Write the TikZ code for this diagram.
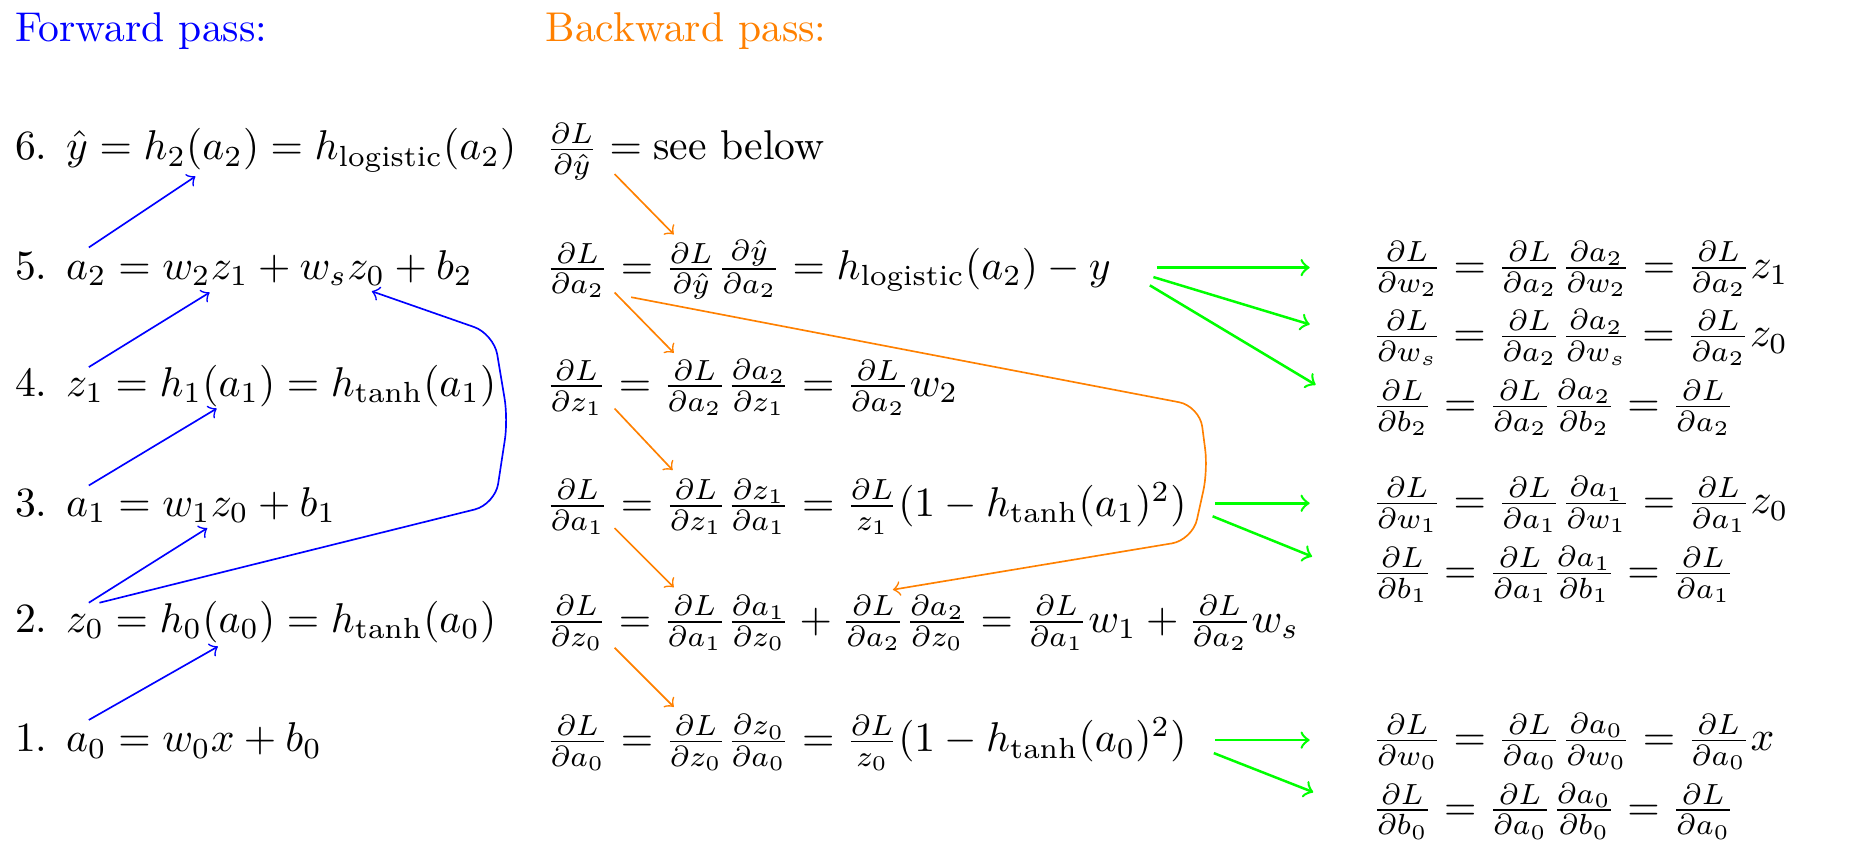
\documentclass[tikz,border=0pt]{standalone}
\usepackage{amsmath}
\usetikzlibrary{arrows,calc}

\begin{document}
\begin{tikzpicture}[
  txt/.style={anchor=base west,inner sep=0pt},
  fwd/.style={->,color=blue},
  bwd/.style={->,color=orange},
  grad/.style={->,color=green,semithick}]
\useasboundingbox (0,0) rectangle (15.69,7.20);

% Titles.
\node[txt,text=blue] (ftitle) at (0.12,6.85) {Forward pass:};
\node[txt,text=orange] (btitle) at (4.60,6.85) {Backward pass:};

% Forward pass.
\node[txt] (f6) at (0.12,5.85) {6.\hspace{4.5pt}$\hat{y} = h_2(a_2) = h_{\text{logistic}}(a_2)$};
\node[txt] (f5) at (0.12,4.84) {5.\hspace{4.5pt}$a_2 = w_2 z_1 + w_s z_0 + b_2$};
\node[txt] (f4) at (0.12,3.85) {4.\hspace{4.5pt}$z_1 = h_1(a_1) = h_{\tanh}(a_1)$};
\node[txt] (f3) at (0.12,2.84) {3.\hspace{4.5pt}$a_1 = w_1 z_0 + b_1$};
\node[txt] (f2) at (0.12,1.86) {2.\hspace{4.5pt}$z_0 = h_0(a_0) = h_{\tanh}(a_0)$};
\node[txt] (f1) at (0.12,0.85) {1.\hspace{4.5pt}$a_0 = w_0 x + b_0$};

% Backward pass.
\node[txt] (d6) at (4.60,5.85) {$\frac{\partial L}{\partial \hat{y}} = \text{see below}$};
\node[txt] (d5) at (4.60,4.84) {$\frac{\partial L}{\partial a_2} = \frac{\partial L}{\partial \hat{y}}\frac{\partial \hat{y}}{\partial a_2} = h_{\text{logistic}}(a_2) - y$};
\node[txt] (d4) at (4.60,3.85) {$\frac{\partial L}{\partial z_1} = \frac{\partial L}{\partial a_2}\frac{\partial a_2}{\partial z_1} = \frac{\partial L}{\partial a_2} w_2$};
\node[txt] (d3) at (4.60,2.84) {$\frac{\partial L}{\partial a_1} = \frac{\partial L}{\partial z_1}\frac{\partial z_1}{\partial a_1} = \frac{\partial L}{z_1}(1 - h_{\tanh}(a_1)^2)$};
\node[txt] (d2) at (4.60,1.86) {$\frac{\partial L}{\partial z_0} = \frac{\partial L}{\partial a_1}\frac{\partial a_1}{\partial z_0} + \frac{\partial L}{\partial a_2}\frac{\partial a_2}{\partial z_0} = \frac{\partial L}{\partial a_1} w_1 + \frac{\partial L}{\partial a_2} w_s$};
\node[txt] (d1) at (4.60,0.85) {$\frac{\partial L}{\partial a_0} = \frac{\partial L}{\partial z_0}\frac{\partial z_0}{\partial a_0} = \frac{\partial L}{z_0}(1 - h_{\tanh}(a_0)^2)$};

% Parameter gradients.
\node[txt] (gw2) at (11.58,4.85) {$\frac{\partial L}{\partial w_2} = \frac{\partial L}{\partial a_2}\frac{\partial a_2}{\partial w_2} = \frac{\partial L}{\partial a_2} z_1$};
\node[txt] (gws) at (11.58,4.27) {$\frac{\partial L}{\partial w_s} = \frac{\partial L}{\partial a_2}\frac{\partial a_2}{\partial w_s} = \frac{\partial L}{\partial a_2} z_0$};
\node[txt] (gb2) at (11.58,3.68) {$\frac{\partial L}{\partial b_2} = \frac{\partial L}{\partial a_2}\frac{\partial a_2}{\partial b_2} = \frac{\partial L}{\partial a_2}$};
\node[txt] (gw1) at (11.58,2.86) {$\frac{\partial L}{\partial w_1} = \frac{\partial L}{\partial a_1}\frac{\partial a_1}{\partial w_1} = \frac{\partial L}{\partial a_1} z_0$};
\node[txt] (gb1) at (11.58,2.27) {$\frac{\partial L}{\partial b_1} = \frac{\partial L}{\partial a_1}\frac{\partial a_1}{\partial b_1} = \frac{\partial L}{\partial a_1}$};
\node[txt] (gw0) at (11.58,0.86) {$\frac{\partial L}{\partial w_0} = \frac{\partial L}{\partial a_0}\frac{\partial a_0}{\partial w_0} = \frac{\partial L}{\partial a_0} x$};
\node[txt] (gb0) at (11.58,0.27) {$\frac{\partial L}{\partial b_0} = \frac{\partial L}{\partial a_0}\frac{\partial a_0}{\partial b_0} = \frac{\partial L}{\partial a_0}$};

% Define the forward arrow ends.
\coordinate (A1) at (0.75,1.12); \coordinate (B1) at (1.84,1.74);
\coordinate (A2) at (0.75,2.11); \coordinate (B2) at (1.75,2.74);
\coordinate (A3) at (0.75,3.10); \coordinate (B3) at (1.83,3.75);
\coordinate (A4) at (0.75,4.10); \coordinate (B4) at (1.77,4.73);
\coordinate (A5) at (0.75,5.11); \coordinate (B5) at (1.65,5.71);
\coordinate (S0) at (0.84,2.11); \coordinate (S1) at (3.14,4.74);

\draw[fwd] (A1) -- (B1);
\draw[fwd] (A2) -- (B2);
\draw[fwd] (A3) -- (B3);
\draw[fwd] (A4) -- (B4);
\draw[fwd] (A5) -- (B5);
\draw[fwd,rounded corners=5pt] (S0) -- (4.18,2.94) -- (4.29,3.66) -- (4.17,4.38) -- (S1);

% Define the backward arrow ends.
\coordinate (P5) at (5.19,5.73); \coordinate (Q5) at (5.69,5.22);
\coordinate (P4) at (5.19,4.73); \coordinate (Q4) at (5.69,4.22);
\coordinate (P3) at (5.19,3.75); \coordinate (Q3) at (5.68,3.23);
\coordinate (P2) at (5.19,2.74); \coordinate (Q2) at (5.69,2.24);
\coordinate (P1) at (5.19,1.73); \coordinate (Q1) at (5.69,1.23);
\coordinate (T0) at (5.33,4.69); \coordinate (T1) at (7.54,2.22);

\draw[bwd] (P5) -- (Q5);
\draw[bwd] (P4) -- (Q4);
\draw[bwd] (P3) -- (Q3);
\draw[bwd] (P2) -- (Q2);
\draw[bwd] (P1) -- (Q1);
\draw[bwd,rounded corners=5pt] (T0) -- (10.13,3.77) -- (10.20,3.23) -- (10.07,2.64) -- (T1);

% Define the gradient arrow ends.
\coordinate (G1) at (9.77,4.94); \coordinate (H1) at (11.06,4.94);
\coordinate (G2) at (9.74,4.86); \coordinate (H2) at (11.06,4.46);
\coordinate (G3) at (9.71,4.79); \coordinate (H3) at (11.11,3.95);
\coordinate (G4) at (10.26,2.95); \coordinate (H4) at (11.06,2.95);
\coordinate (G5) at (10.24,2.84); \coordinate (H5) at (11.08,2.50);
\coordinate (G6) at (10.26,0.95); \coordinate (H6) at (11.06,0.95);
\coordinate (G7) at (10.25,0.84); \coordinate (H7) at (11.09,0.51);

\draw[grad] (G1) -- (H1);
\draw[grad] (G2) -- (H2);
\draw[grad] (G3) -- (H3);
\draw[grad] (G4) -- (H4);
\draw[grad] (G5) -- (H5);
\draw[grad] (G6) -- (H6);
\draw[grad] (G7) -- (H7);

\end{tikzpicture}
\end{document}
